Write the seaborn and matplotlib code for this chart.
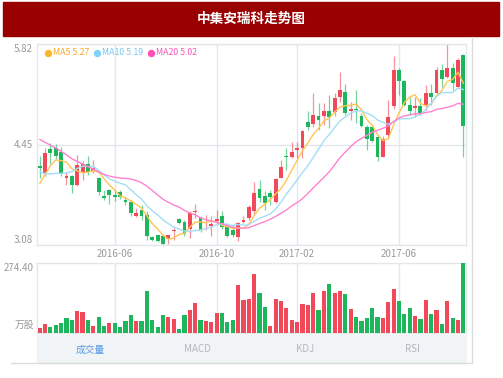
import numpy as np
import pandas as pd
import seaborn as sns
import matplotlib.pyplot as plt
from matplotlib.patches import Rectangle
from matplotlib.lines import Line2D

# weekly candles (2016-02 .. 2017-08)
opens = [4.16, 4.05, 4.39, 4.40, 4.35, 4.00, 4.02, 3.90, 4.07, 4.18,
         4.09, 4.00, 3.75, 3.83, 3.76, 3.80, 3.70, 3.67, 3.47, 3.56,
         3.49, 3.19, 3.21, 3.20, 3.16, 3.27, 3.43, 3.40, 3.30, 3.53,
         3.45, 3.32, 3.34, 3.41, 3.48, 3.34, 3.29, 3.19, 3.40, 3.45,
         3.54, 3.85, 3.75, 3.79, 3.67, 4.00, 4.30, 4.28, 4.38, 4.40,
         4.75, 4.73, 4.84, 4.84, 4.91, 4.89, 5.10, 5.17, 4.91, 4.94,
         4.84, 4.69, 4.69, 4.55, 4.28, 4.58, 4.97, 5.47, 5.32, 4.99,
         4.95, 4.97, 4.99, 5.15, 5.15, 5.46, 5.37, 5.49, 5.24, 5.67]
highs = [4.29, 4.40, 4.47, 4.46, 4.42, 4.07, 4.04, 4.31, 4.22, 4.29,
         4.24, 4.01, 3.83, 3.85, 3.83, 3.83, 3.74, 3.70, 3.58, 3.63,
         3.54, 3.20, 3.21, 3.21, 3.22, 3.31, 3.45, 3.42, 3.54, 3.64,
         3.47, 3.49, 3.48, 3.56, 3.54, 3.38, 3.35, 3.40, 3.47, 3.63,
         3.94, 3.97, 3.81, 3.83, 3.99, 4.24, 4.40, 4.49, 4.49, 4.65,
         4.90, 5.15, 5.01, 5.01, 5.12, 5.15, 5.44, 5.28, 5.03, 5.19,
         4.88, 4.72, 4.72, 4.58, 4.56, 5.06, 5.65, 5.49, 5.33, 5.10,
         5.10, 5.08, 5.26, 5.28, 5.51, 5.55, 5.82, 5.56, 5.63, 5.69]
lows = [3.99, 4.02, 4.18, 4.25, 4.02, 3.90, 3.79, 3.88, 3.97, 4.03,
        4.06, 3.76, 3.69, 3.64, 3.68, 3.71, 3.63, 3.47, 3.46, 3.42,
        3.15, 3.13, 3.12, 3.08, 3.10, 3.15, 3.37, 3.20, 3.17, 3.45,
        3.26, 3.29, 3.20, 3.37, 3.30, 3.19, 3.19, 3.13, 3.38, 3.42,
        3.50, 3.67, 3.56, 3.63, 3.65, 3.99, 4.10, 4.26, 4.26, 4.26,
        4.65, 4.69, 4.65, 4.72, 4.68, 4.84, 5.03, 4.85, 4.78, 4.74,
        4.69, 4.38, 4.49, 4.22, 4.28, 4.54, 4.94, 5.13, 4.97, 4.85,
        4.83, 4.85, 4.92, 4.99, 5.13, 5.24, 5.35, 5.19, 5.22, 4.28]
closes = [4.13, 4.34, 4.33, 4.30, 4.05, 4.02, 3.90, 4.17, 4.19, 4.08,
          4.13, 3.80, 3.72, 3.76, 3.74, 3.73, 3.67, 3.51, 3.52, 3.48,
          3.20, 3.15, 3.14, 3.10, 3.21, 3.28, 3.38, 3.23, 3.52, 3.55,
          3.29, 3.33, 3.36, 3.43, 3.33, 3.20, 3.21, 3.38, 3.42, 3.60,
          3.79, 3.72, 3.65, 3.74, 3.98, 4.15, 4.28, 4.35, 4.40, 4.63,
          4.69, 4.85, 4.78, 4.91, 4.83, 5.09, 5.19, 4.88, 4.93, 4.92,
          4.70, 4.52, 4.50, 4.28, 4.52, 4.82, 5.47, 5.31, 4.99, 4.90,
          4.97, 4.88, 5.15, 5.10, 5.46, 5.34, 5.49, 5.29, 5.60, 4.70]
# closes of the weeks before the window (only feed the moving averages)
prior_closes = [5.15, 5.10, 5.05, 5.00, 4.98, 4.95, 4.90, 4.88, 4.82, 4.77,
                4.60, 4.40, 4.20, 4.05, 3.95, 3.75, 3.72, 3.90, 4.10]

# volume in 万股, and bar side (R up / G down)
volume = [21, 37, 24, 31, 39, 59, 51, 86, 84, 52,
          29, 61, 27, 41, 41, 22, 46, 72, 48, 46,
          166, 52, 25, 72, 61, 55, 14, 72, 91, 119,
          50, 46, 44, 77, 78, 42, 50, 188, 128, 135,
          233, 157, 101, 26, 132, 124, 98, 51, 42, 115,
          111, 158, 91, 165, 193, 157, 163, 153, 94, 61,
          48, 58, 99, 64, 60, 120, 171, 125, 76, 98,
          67, 56, 131, 73, 90, 37, 124, 60, 52, 274.4]
vol_side = list("RRGGGGGRRGRGGRGGGGRGGGGGRRGGRRGRRRGGGRRR"
                "RGGRRRRRRRRRGRGRRGRGGGGGRRRGGGRGRGRGRGRG")

tick_pos = [14, 33, 48, 67]
tick_labels = ["2016-06", "2016-10", "2017-02", "2017-06"]
ma_names = ["MA5", "MA10", "MA20"]
ma_last = [5.27, 5.19, 5.02]
tabs = ["成交量", "MACD", "KDJ", "RSI"]

RED = "#f2495a"
GREEN = "#1db65a"
GRID = "#e3e7ec"
TXT = "#9a9a9a"

sns.set_theme(style="white")
plt.rcParams["font.family"] = ["Noto Sans CJK SC", "DejaVu Sans"]

idx = np.arange(len(closes))
allc = pd.Series(prior_closes + closes)
n0 = len(prior_closes)
ma = {w: allc.rolling(w).mean().to_numpy()[n0:] for w in (5, 10, 20)}

W, H = 503, 378
fig = plt.figure(figsize=(W / 100, H / 100), dpi=100)


def fx(px):
    return px / W


def fy(py):
    return 1 - py / H


# title bar
fig.patches.append(Rectangle((fx(3), fy(35.5)), fx(496), 33.5 / H,
                             transform=fig.transFigure, color="#990000", zorder=0))
fig.text(0.5, fy(18.5), "中集安瑞科走势图", color="white", fontsize=9.8,
         fontweight="bold", ha="center", va="center")

# outer frame lines
fig.add_artist(Line2D([fx(11), fx(472)], [fy(363), fy(363)], color="#dcdcdc", lw=1))
fig.add_artist(Line2D([fx(472), fx(472)], [fy(37), fy(363)], color="#dcdcdc", lw=1))

left, right = 37, 466
ax = fig.add_axes([fx(left), fy(245), (right - left) / W, 201 / H])
axv = fig.add_axes([fx(left), fy(333), (right - left) / W, 70 / H])

# candles
for i in idx:
    o, h, l, c = opens[i], highs[i], lows[i], closes[i]
    col = RED if c >= o else GREEN
    ax.vlines(i, l, h, color=col, lw=0.9, alpha=0.6, zorder=2)
    ax.bar(i, max(abs(c - o), 0.012), bottom=min(o, c), width=0.72,
           color=col, zorder=3, linewidth=0)

ma_colors = ["#ffc552", "#a3def6", "#ff82d0"]
for w, col in zip((5, 10, 20), ma_colors):
    sns.lineplot(x=idx, y=ma[w], ax=ax, color=col, lw=1.0, zorder=4)

ax.set_xlim(-0.5, len(idx) - 0.5)
ax.set_ylim(3.08, 5.82)
ax.set_yticks([3.08, 4.45, 5.82])
ax.set_yticklabels(["3.08", "4.45", "5.82"])
ax.set_xticks(tick_pos)
ax.set_xticklabels(tick_labels)
ax.tick_params(length=0, labelsize=7, colors=TXT, pad=3)
ylabs = ax.get_yticklabels()
ylabs[0].set_va("bottom")
ylabs[2].set_va("top")
ax.grid(True, color=GRID, lw=1)
ax.set_axisbelow(True)
ax.set_xlabel("")
ax.set_ylabel("")
for s in ax.spines.values():
    s.set_color(GRID)
    s.set_linewidth(1)

# legend
legend_cols = ["#fbb62a", "#7fd1f5", "#ff4fb5"]
text_cols = ["#f7a928", "#78c8ee", "#ff55b8"]
lx = [47.5, 96.5, 150.5]
for name, val, mc, tc, x0 in zip(ma_names, ma_last, legend_cols, text_cols, lx):
    ax.plot([(x0 - left) / (right - left)], [1 - 8.5 / 201], marker="o", ms=4.3,
            color=mc, transform=ax.transAxes, clip_on=False, zorder=6)
    ax.text((x0 + 5.5 - left) / (right - left), 1 - 8.5 / 201, f"{name} {val:.2f}",
            transform=ax.transAxes, color=tc, fontsize=6.3, va="center", ha="left")

# volume
vdf = pd.DataFrame({"i": idx, "vol": volume, "side": vol_side})
sns.barplot(data=vdf, x="i", y="vol", hue="side", palette={"R": RED, "G": GREEN},
            native_scale=True, dodge=False, legend=False, width=0.78,
            saturation=1, errorbar=None, ax=axv, zorder=3, linewidth=0)
axv.set_xlim(-0.5, len(idx) - 0.5)
axv.set_ylim(0, 274.4)
axv.set_xticks(tick_pos)
axv.set_xticklabels([])
axv.set_yticks([])
axv.tick_params(length=0)
axv.grid(True, axis="x", color=GRID, lw=1)
axv.set_axisbelow(True)
axv.set_xlabel("")
axv.set_ylabel("")
for s in axv.spines.values():
    s.set_color(GRID)
    s.set_linewidth(1)
fig.text(fx(34), fy(268), "274.40", color=TXT, fontsize=7, ha="right", va="center")
fig.text(fx(34), fy(325), "万股", color=TXT, fontsize=7, ha="right", va="center")

# tab bar
fig.patches.append(Rectangle((fx(left), fy(363)), (right - left) / W, 28 / H,
                             transform=fig.transFigure, color="#f1f4f6", zorder=0))
tw = (right - left) / len(tabs)
for k, t in enumerate(tabs):
    fig.text(fx(left + tw * (k + 0.5)), fy(349.5), t, fontsize=7,
             color="#5a9ae8" if k == 0 else "#b3b8be", ha="center", va="center")

fig.savefig("out.png", dpi=100, facecolor="white")
